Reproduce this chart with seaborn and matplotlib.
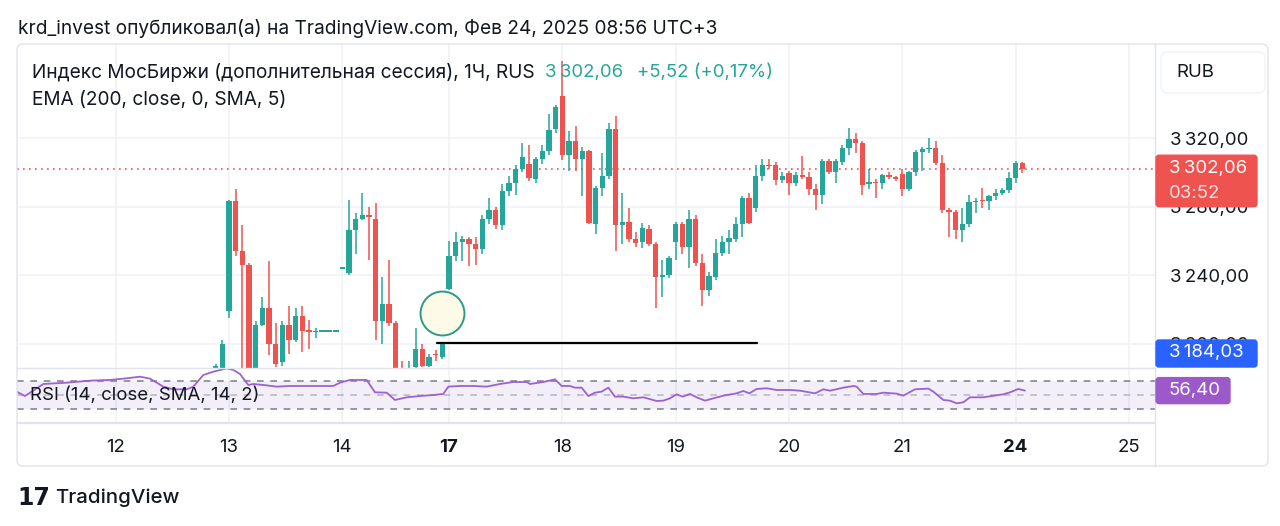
import numpy as np
import pandas as pd
import matplotlib
matplotlib.use("Agg")
import matplotlib.pyplot as plt
import seaborn as sns
from matplotlib.patches import FancyBboxPatch
from matplotlib.lines import Line2D
from matplotlib.transforms import IdentityTransform

sns.set_theme(style="white")
plt.rcParams['font.family'] = ['Inter', 'DejaVu Sans']

# ---------------- data ----------------
first_bar = -35
opens = [3185, 3183, 3219, 3283, 3254, 3246, 3184, 3211, 3221, 3200, 3189, 3211, 3202, 3216, 3208,
         3206.5, 3207, 3207, 3207, 3243.5, 3241, 3266, 3273, 3275, 3273, 3213, 3223, 3212, 3183, 3181,
         3186, 3197, 3187, 3193.5, 3192,
         3232, 3251, 3259, 3261, 3258, 3255, 3273, 3278, 3269, 3289, 3294, 3302, 3305, 3296, 3307.5,
         3312.6, 3325, 3344.5, 3310, 3318, 3307.5, 3312.6, 3270, 3291, 3298, 3325, 3269, 3271, 3261,
         3259, 3267, 3258, 3238.7, 3240, 3259, 3270, 3256.6, 3273, 3247, 3231, 3239, 3253, 3259, 3261,
         3270, 3285, 3279, 3298, 3304.5, 3304, 3295.5, 3299.4, 3293.6, 3298.4, 3297, 3290, 3286.7,
         3306.8, 3300.3, 3306, 3314, 3319.2, 3317.3, 3293, 3294.5, 3293.5, 3298.4, 3297, 3299, 3290,
         3300.3, 3312, 3313.4, 3314.4, 3305.6, 3278, 3277, 3266, 3269.8, 3282.8, 3284, 3283, 3286,
         3288, 3289.6, 3296.5, 3305.6]
highs = [3188, 3202, 3284, 3290, 3269, 3247, 3213, 3227, 3248, 3212, 3213, 3222, 3221, 3222, 3214,
         3209, 3207, 3207, 3207, 3244.5, 3284, 3276, 3288, 3280, 3282, 3239, 3249, 3213, 3190, 3190,
         3209, 3200, 3194, 3196, 3201,
         3260, 3265, 3263, 3262, 3262, 3275, 3285, 3280, 3293, 3298, 3304, 3317, 3316, 3309, 3316,
         3334, 3339, 3365, 3324, 3327, 3315, 3313, 3292, 3311, 3329, 3333, 3288, 3279, 3265,
         3270.6, 3269, 3259, 3249, 3251, 3271, 3271, 3278, 3275, 3252, 3242, 3261, 3263, 3266,
         3274, 3286, 3288, 3304, 3308, 3308, 3306, 3300, 3301, 3300, 3309.5, 3300, 3293,
         3308, 3308, 3308, 3316, 3325.6, 3323, 3318, 3302, 3296, 3299, 3300.3, 3298, 3302, 3301,
         3313, 3315, 3320, 3318.5, 3310, 3279, 3278, 3279, 3287, 3285, 3291, 3287,
         3290, 3291, 3300, 3306.5, 3306]
lows = [3180, 3180, 3215, 3251, 3180, 3175, 3182, 3210, 3193, 3186, 3187, 3194, 3201, 3195, 3197,
        3203.5, 3207, 3207, 3207, 3243.5, 3240, 3252, 3272, 3249, 3202, 3200, 3210, 3178, 3178, 3179,
        3185, 3186, 3186, 3190, 3191,
        3231, 3248, 3248, 3245, 3246, 3252, 3270, 3267, 3266, 3286, 3287, 3300, 3295, 3294, 3305,
        3310, 3323, 3307, 3301, 3301, 3286, 3270, 3264, 3286, 3296, 3254, 3258, 3259, 3256.6,
        3256, 3257, 3220.6, 3227, 3238, 3249, 3252, 3244, 3245, 3222, 3227.7, 3237, 3251, 3252,
        3259, 3262, 3270, 3277, 3295, 3302, 3292.6, 3294, 3287, 3292, 3296, 3286.7, 3278,
        3281.5, 3299, 3294, 3304, 3310, 3311, 3286.7, 3290, 3285, 3290, 3296, 3295, 3286, 3289,
        3298, 3301, 3311, 3304, 3276, 3262, 3261, 3259, 3268, 3276, 3279, 3278,
        3284, 3287, 3288, 3294, 3299.8]
closes = [3187, 3200, 3283, 3254, 3246, 3180, 3211, 3221, 3200, 3188, 3211, 3202, 3216, 3207.5, 3206.5,
          3207, 3207, 3207, 3207, 3244.5, 3266, 3273, 3275, 3274, 3213, 3223, 3212, 3182, 3181, 3184,
          3197, 3187, 3192, 3193, 3200.5,
          3251, 3259, 3261, 3258, 3255, 3273, 3278, 3269, 3289, 3294, 3302, 3309, 3296.5, 3307.5, 3312.6,
          3324.7, 3338, 3310, 3318, 3307.5, 3312.6, 3270.2, 3291, 3298, 3325, 3269, 3271, 3261, 3258.6,
          3267.3, 3258, 3238.7, 3240, 3249.7, 3270, 3256.6, 3273, 3247, 3231, 3239.4, 3253, 3259, 3261.4,
          3270, 3285, 3270.6, 3298, 3304, 3303.5, 3295.5, 3297.8, 3293.6, 3298.4, 3297, 3290, 3286.7,
          3306.8, 3300.3, 3306.8, 3314, 3319.2, 3317.3, 3292.6, 3294.5, 3293.5, 3298.4, 3297, 3296, 3290,
          3300.3, 3312, 3313.4, 3314.4, 3305.6, 3278, 3277, 3266, 3269.8, 3282.8, 3283.5, 3283, 3286,
          3288, 3289.6, 3296.5, 3305.6, 3302.06]

day_labels = ["12", "13", "14", "17", "18", "19", "20", "21", "24", "25"]
day_bars = [-50, -33, -16, 0, 17, 34, 51, 68, 85, 102]
bold_days = ["17", "24"]

rsi_bar = [-64.85, -63.6, -60.85, -57.35, -53.85, -50.85, -48.35, -46.35, -44.85, -42.85, -41.35,
           -39.35, -38.35, -36.85, -35.35, -33.35, -32.35, -31.35, -30.1, -29.35, -27.35, -25.85,
           -23.85, -17.35, -16.35, -14.85, -12.35, -11.1, -9.35, -8.1, -6.35, -4.35, -2.35, -0.85,
           -0.1, 1.65, 3.65, 5.65, 7.65, 9.65, 11.65, 12.15, 14.15, 15.9, 16.9, 18.15, 18.9, 19.9,
           20.9, 21.9, 22.9, 23.9, 24.9, 26.15, 27.65, 29.15, 31.15, 32.15, 33.15, 34.15, 35.05,
           36.15, 37.15, 38.4, 39.65, 41.15, 43.15, 44.15, 45.05, 46.15, 47.65, 49.15, 51.15, 52.65,
           54.9, 56.15, 57.15, 59.15, 60.65, 61.15, 62.15, 64.15, 65.15, 67.15, 68.15, 69.9, 71.9,
           72.65, 74.15, 75.15, 76.15, 77.15, 78.15, 80.15, 83.15, 84.15, 85.4, 86.4]
rsi_val = [54.9, 48.5, 66.1, 68.0, 71.0, 72.0, 74.4, 76.8, 73.9, 62.2, 58.3,
           58.3, 62.2, 79.3, 84.1, 89.0, 86.6, 80.7, 64.6, 66.1, 64.1, 62.2,
           63.2, 63.2, 68.0, 72.0, 72.0, 53.9, 53.4, 42.7, 46.6, 48.5, 50.0, 51.5,
           62.2, 63.2, 63.2, 62.2, 66.1, 69.0, 69.0, 66.1, 69.0, 72.9, 63.2, 63.2, 60.7, 60.7,
           48.5, 53.4, 54.9, 60.7, 47.6, 47.6, 45.1, 46.6, 41.2, 41.7, 45.1, 51.0, 47.6,
           51.5, 46.6, 41.7, 45.1, 49.0, 52.4, 55.9, 52.4, 58.8, 59.8, 57.3, 57.3, 56.3,
           52.4, 58.3, 56.3, 60.7, 63.2, 62.2, 51.5, 51.5, 53.4, 52.0, 49.0, 58.3, 59.3,
           54.9, 42.7, 41.7, 37.8, 39.3, 46.6, 46.6, 51.0, 53.9, 58.8, 56.4]

price_ticks = [3200, 3240, 3280, 3320]
rsi_levels = [70, 50, 30]
last_price = 3302.06
ema_value = 3184.03
rsi_last = 56.40
timer_text = "03:52"
change_text = "+5,52 (+0,17%)"
level_price = 3200.5
level_bars = [-1.8, 46.2]
circle_bar, circle_price = -1.05, 3217.8

header = "krd_invest опубликовал(а) на TradingView.com, Фев 24, 2025 08:56 UTC+3"
title = "Индекс МосБиржи (дополнительная сессия), 1Ч, RUS"
ema_title = "EMA (200, close, 0, SMA, 5)"
rsi_title = "RSI (14, close, SMA, 14, 2)"

# ---------------- styling ----------------
UP, DOWN = "#26a69a", "#ef5350"
TXT = "#131722"
GRID = "#eff1f5"
BORDER = "#e0e3eb"
RSI_C = "#9a63cf"
FS = 13.4
FS_T = 13.75
W, H = 1280, 526

def fmt(p):
    s = f"{p:,.2f}"
    return s.replace(",", "\u2009").replace(".", ",")

df = pd.DataFrame({"open": opens, "high": highs, "low": lows, "close": closes})
df["bar"] = np.arange(len(df)) + first_bar
df["up"] = df["close"] >= df["open"]
df["color"] = np.where(df["up"], UP, DOWN)
df["bottom"] = df[["open", "close"]].min(axis=1)
df["height"] = (df["close"] - df["open"]).abs().clip(lower=0.7)
df["width"] = np.where((df["close"] - df["open"]).abs() < 0.5, 0.95, 0.78)

fig = plt.figure(figsize=(W / 100, H / 100), dpi=100)
fig.patch.set_facecolor("white")

def fx(px):
    return px / W

def fy(py):
    return 1 - py / H

L, R = 17, 1155
ax = fig.add_axes([fx(L), fy(368), fx(R) - fx(L), (368 - 44) / H])
axr = fig.add_axes([fx(L), fy(423), fx(R) - fx(L), (423 - 368) / H], sharex=ax)

for a in (ax, axr):
    a.set_facecolor("none")
    for s in a.spines.values():
        s.set_visible(False)

ax.set_xlim(-64.8, 105.9)
ax.set_ylim(3185.7, 3374.9)
axr.set_ylim(9.0, 89.5)

# grid
for p in price_ticks:
    ax.axhline(p, color=GRID, lw=1.1, zorder=0)
for b in day_bars:
    ax.axvline(b, color=GRID, lw=1.1, zorder=0)
    axr.axvline(b, color=GRID, lw=1.1, zorder=0)

# candles
ax.vlines(df["bar"], df["low"], df["high"], colors=df["color"], lw=1.1, zorder=2)
ax.bar(df["bar"], df["height"], bottom=df["bottom"], width=df["width"], color=df["color"],
       linewidth=0, zorder=3)

# last price dotted line
ax.axhline(last_price, color=DOWN, lw=1.2, ls=(0, (1, 2.6)), zorder=1)

# drawn level line & circle
ax.plot(level_bars, [level_price, level_price], color="black", lw=1.6, zorder=4)
ax.scatter([circle_bar], [circle_price], s=1000, facecolor="#fdfbe8", edgecolor="#2e9a84",
           linewidth=1.4, zorder=5)

# price axis ticks
ax.yaxis.tick_right()
ax.set_yticks(price_ticks)
ax.set_yticklabels([fmt(p) for p in price_ticks], fontsize=FS, color=TXT)
ax.tick_params(axis="y", length=0, pad=10.5)
ax.tick_params(axis="x", length=0, labelbottom=False)

# RSI pane
axr.axhspan(rsi_levels[2], rsi_levels[0], color="#7e57c2", alpha=0.09, lw=0, zorder=0)
for lv in rsi_levels:
    axr.axhline(lv, color="#787b86", lw=1.2, ls=(0, (4, 4)),
                alpha=(0.45 if lv == 50 else 0.9), zorder=1)
sns.lineplot(x=rsi_bar, y=rsi_val, ax=axr, color=RSI_C, lw=1.3, estimator=None, zorder=3)
axr.set_yticks([])
axr.set_xticks(day_bars)
axr.set_xticklabels(day_labels, fontsize=FS, color=TXT)
for t in axr.get_xticklabels():
    if t.get_text() in bold_days:
        t.set_fontweight("bold")
axr.tick_params(axis="x", length=0, pad=11.5)
axr.set_xlabel("")
axr.set_ylabel("")

# frame / separators (pixel coords)
def hline(y, x0, x1, lw=1.0, c=BORDER):
    fig.add_artist(Line2D([fx(x0), fx(x1)], [fy(y), fy(y)], color=c, lw=lw, transform=fig.transFigure))

def vline(x, y0, y1, lw=1.0, c=BORDER):
    fig.add_artist(Line2D([fx(x), fx(x)], [fy(y0), fy(y1)], color=c, lw=lw, transform=fig.transFigure))

fig.add_artist(FancyBboxPatch((L, H - 466), 1268 - L, 466 - 44,
                              boxstyle="round,pad=0,rounding_size=6", transform=IdentityTransform(),
                              facecolor="none", edgecolor=BORDER, lw=1.0))
hline(368, L, R, lw=1.0)
hline(422.5, L, R, lw=1.6)
vline(R, 44, 466, lw=1.0)

def px_box(x0, y0, x1, y1, color, r=3, ec=None):
    fig.add_artist(FancyBboxPatch((x0, H - y1), x1 - x0, y1 - y0,
                                  boxstyle=f"round,pad=0,rounding_size={r}",
                                  transform=IdentityTransform(), facecolor=color,
                                  edgecolor=ec if ec else color, lw=1.0, zorder=10))

def px_text(x, y, s, **kw):
    kw.setdefault("fontsize", FS)
    kw.setdefault("color", TXT)
    kw.setdefault("va", "center")
    kw.setdefault("ha", "left")
    fig.text(fx(x), fy(y), s, zorder=11, **kw)

def data_py(a, val):
    fig.canvas.draw()
    return H - a.transData.transform((0, val))[1]

# header & legends
px_text(18, 28, header, fontsize=FS_T)
px_text(32, 72, title, fontsize=FS_T)
px_text(545, 72, fmt(last_price), color=UP)
px_text(637, 72, change_text, color=UP)
px_text(32, 100, ema_title, fontsize=FS_T)
px_text(30, 395, rsi_title)

# RUB box
px_box(1161, 52, 1265, 93, "white", r=7, ec="#f0f3fa")
px_text(1176, 72, "RUB")

# last price label
yp = data_py(ax, last_price)
px_box(1156, yp - 13.5, 1257, yp + 38, DOWN, r=3)
px_text(1169, yp, fmt(last_price), color="white")
px_text(1169, yp + 24.5, timer_text, color="#fde0df")

# EMA label (clamped to pane bottom)
ye = min(data_py(ax, ema_value), 368 - 15)
px_box(1156, ye - 13, 1257, ye + 14, "#2962ff", r=3)
px_text(1169, ye, fmt(ema_value), color="white")

# RSI label
yr = data_py(axr, rsi_last)
px_box(1156, yr - 13, 1230, yr + 13, "#9b59c9", r=3)
px_text(1169, yr, f"{rsi_last:.2f}".replace(".", ","), color="white")

# footer logo
px_text(17, 498, "17", fontsize=17, fontweight="black", family=["DejaVu Sans"])
px_text(55, 498, "TradingView", fontsize=14.7, fontweight="medium")

fig.savefig("out.png", dpi=100, facecolor="white")
